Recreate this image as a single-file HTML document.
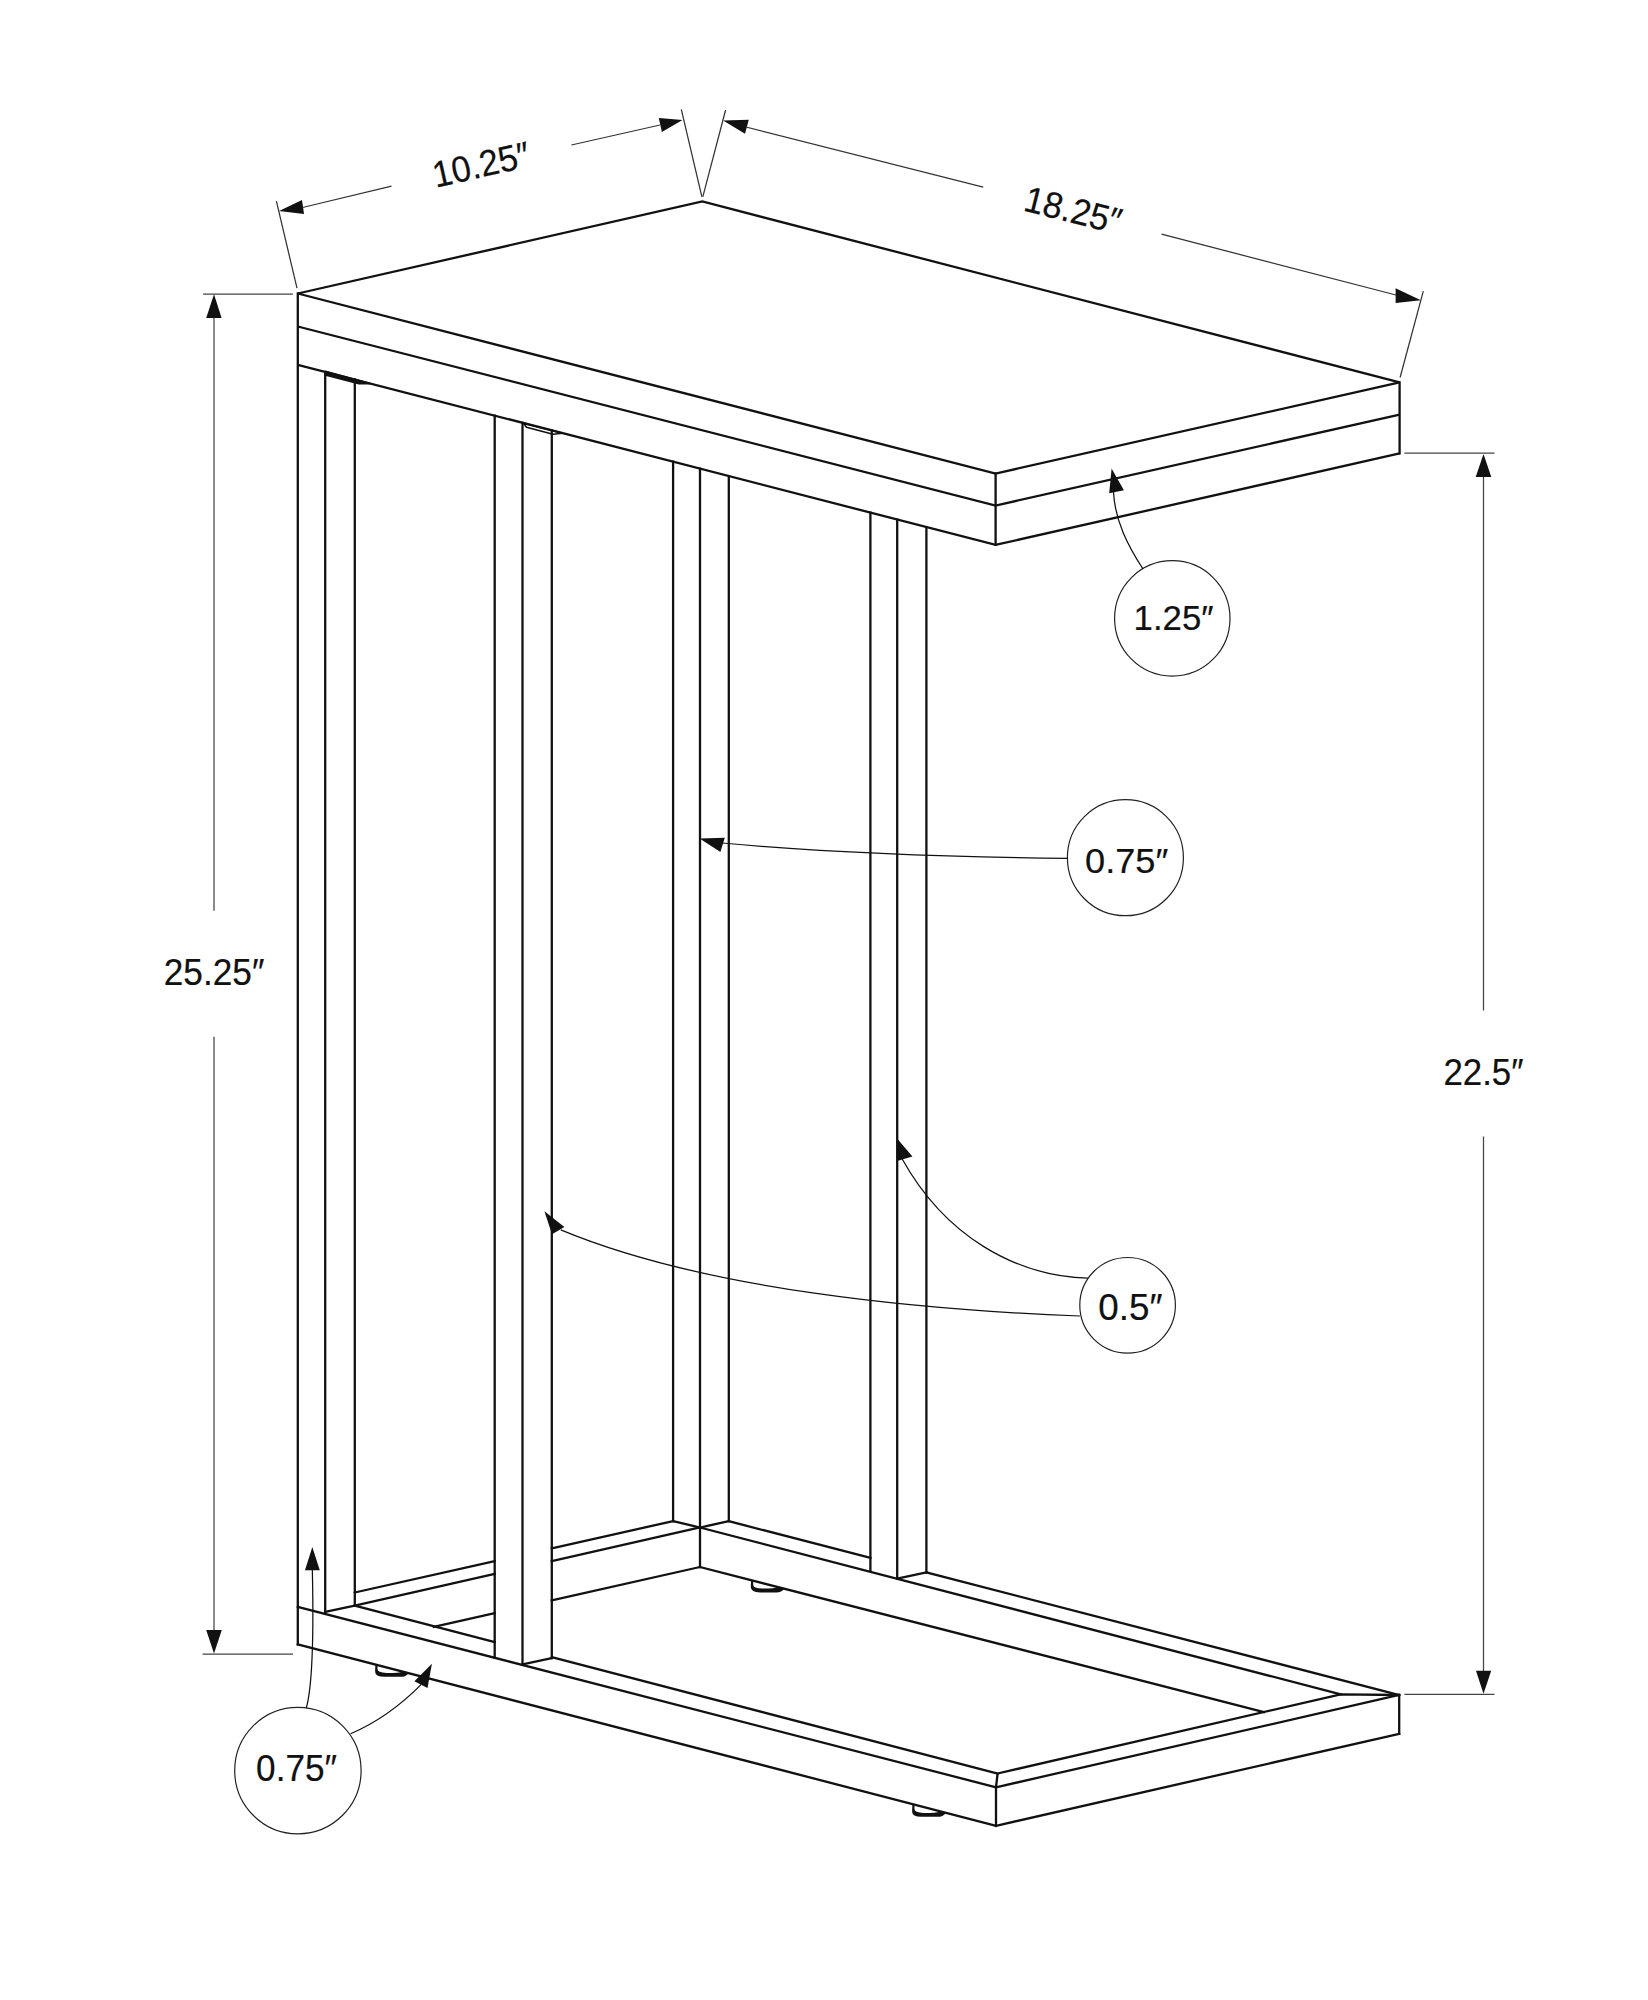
<!DOCTYPE html><html><head><meta charset="utf-8"><style>html,body{margin:0;padding:0;background:#fff}svg{display:block}</style></head><body><svg width="1648" height="2000" viewBox="0 0 1648 2000" stroke-linecap="butt"><rect width="1648" height="2000" fill="#fff"/><polygon points="297.8,293.5 702.3,201.5 1399.6,382.4 995.6,473.5 297.8,293.5" fill="none" stroke="#111" stroke-width="2.3" stroke-linejoin="miter"/>
<line x1="297.8" y1="293.5" x2="297.8" y2="1644.4" stroke="#111" stroke-width="2.3" stroke-linecap="square"/>
<polyline points="297.8,326.5 995.6,505.5 1399.6,414.6" fill="none" stroke="#111" stroke-width="2.3" stroke-linejoin="miter"/>
<polyline points="297.8,364.8 995.6,544.9 1399.6,453.4" fill="none" stroke="#111" stroke-width="2.3" stroke-linejoin="miter"/>
<line x1="995.6" y1="473.5" x2="995.6" y2="544.9" stroke="#111" stroke-width="2.3" stroke-linecap="square"/>
<line x1="1399.6" y1="382.4" x2="1399.6" y2="453.4" stroke="#111" stroke-width="2.3" stroke-linecap="square"/>
<line x1="325.2" y1="371.87742000000003" x2="325.2" y2="1611.9" stroke="#111" stroke-width="2.3" stroke-linecap="square"/>
<line x1="354.8" y1="379.5231" x2="354.8" y2="1605.6" stroke="#111" stroke-width="2.3" stroke-linecap="square"/>
<line x1="494.7" y1="415.65927" x2="494.7" y2="1657.5" stroke="#111" stroke-width="2.3" stroke-linecap="square"/>
<line x1="522.5" y1="422.84001" x2="522.5" y2="1664.3" stroke="#111" stroke-width="2.3" stroke-linecap="square"/>
<line x1="551.8" y1="430.40819999999997" x2="551.8" y2="1658" stroke="#111" stroke-width="2.3" stroke-linecap="square"/>
<line x1="673.1" y1="461.73999000000003" x2="673.1" y2="1521.1" stroke="#111" stroke-width="2.3" stroke-linecap="square"/>
<line x1="700.0" y1="468.68826" x2="700.0" y2="1567.0" stroke="#111" stroke-width="2.3" stroke-linecap="square"/>
<line x1="728.8" y1="476.1273" x2="728.8" y2="1521.2" stroke="#111" stroke-width="2.3" stroke-linecap="square"/>
<line x1="870.4" y1="512.70258" x2="870.4" y2="1570.8" stroke="#111" stroke-width="2.3" stroke-linecap="square"/>
<line x1="897.2" y1="519.62502" x2="897.2" y2="1578.6" stroke="#111" stroke-width="2.3" stroke-linecap="square"/>
<line x1="926.4" y1="527.16738" x2="926.4" y2="1572.4" stroke="#111" stroke-width="2.3" stroke-linecap="square"/>
<line x1="297.8" y1="1606.9" x2="996.0" y2="1787.3" stroke="#111" stroke-width="2.3" stroke-linecap="square"/>
<line x1="297.8" y1="1644.4" x2="996.0" y2="1825.8" stroke="#111" stroke-width="2.3" stroke-linecap="square"/>
<line x1="325.2" y1="1611.9" x2="354.8" y2="1605.6" stroke="#111" stroke-width="2.3" stroke-linecap="square"/>
<line x1="522.5" y1="1664.3" x2="551.8" y2="1658.0" stroke="#111" stroke-width="2.3" stroke-linecap="square"/>
<line x1="897.2" y1="1578.6" x2="926.4" y2="1572.4" stroke="#111" stroke-width="2.3" stroke-linecap="square"/>
<polyline points="673.1,1521.1 700.0,1527.5 728.8,1521.2" fill="none" stroke="#111" stroke-width="2.3" stroke-linejoin="miter"/>
<line x1="354.8" y1="1605.6" x2="494.7" y2="1642.1420192906035" stroke="#111" stroke-width="2.3" stroke-linecap="square"/>
<line x1="551.8" y1="1657.0565961418793" x2="997.6" y2="1773.5" stroke="#111" stroke-width="2.3" stroke-linecap="square"/>
<polyline points="997.6,1773.5 996.0,1787.3 996.0,1825.8" fill="none" stroke="#111" stroke-width="2.3" stroke-linejoin="miter"/>
<line x1="996.0" y1="1787.3" x2="1399.2" y2="1695.0" stroke="#111" stroke-width="2.3" stroke-linecap="square"/>
<line x1="996.0" y1="1825.8" x2="1399.2" y2="1733.8" stroke="#111" stroke-width="2.3" stroke-linecap="square"/>
<line x1="1399.2" y1="1695.0" x2="1399.2" y2="1733.8" stroke="#111" stroke-width="2.3" stroke-linecap="square"/>
<polyline points="997.6,1773.5 1340.6,1694.3 1399.2,1695.0" fill="none" stroke="#111" stroke-width="2.3" stroke-linejoin="miter"/>
<line x1="728.8" y1="1521.2" x2="870.4" y2="1557.9095465393796" stroke="#111" stroke-width="2.3" stroke-linecap="square"/>
<line x1="926.4" y1="1572.427446300716" x2="1399.2" y2="1695.0" stroke="#111" stroke-width="2.3" stroke-linecap="square"/>
<line x1="700.0" y1="1527.5" x2="1340.6" y2="1694.3" stroke="#111" stroke-width="2.3" stroke-linecap="square"/>
<line x1="700.0" y1="1567.0" x2="1263.8" y2="1712.0" stroke="#111" stroke-width="2.3" stroke-linecap="square"/>
<line x1="354.8" y1="1592.5" x2="494.7" y2="1561.118096135721" stroke="#111" stroke-width="2.3" stroke-linecap="square"/>
<line x1="551.8" y1="1548.3096135721019" x2="673.1" y2="1521.1" stroke="#111" stroke-width="2.3" stroke-linecap="square"/>
<line x1="354.8" y1="1605.6" x2="494.7" y2="1573.9482329084587" stroke="#111" stroke-width="2.3" stroke-linecap="square"/>
<line x1="551.8" y1="1561.0296060254925" x2="700.0" y2="1527.5" stroke="#111" stroke-width="2.3" stroke-linecap="square"/>
<line x1="433.8" y1="1626.9" x2="494.7" y2="1613.1963561232158" stroke="#111" stroke-width="2.3" stroke-linecap="square"/>
<line x1="551.8" y1="1600.3477836213374" x2="700.0" y2="1567.0" stroke="#111" stroke-width="2.3" stroke-linecap="square"/>
<path d="M375.40000000000003,1664.1 L375.1,1671.5 Q375.1,1676.8 384.3,1676.8 L400.70000000000005,1676.8 Q405.8,1676.8 408.8,1673.1988 L402.1,1671.6634999999999 Q400.1,1672.8 386.6,1673.0 Q377.5,1672.8 377.5,1669.1 L377.5,1665.0920999999998 Z" fill="#111"/>
<path d="M751.0999999999999,1579.7 L750.8,1587.1000000000001 Q750.8,1592.4 760.0,1592.4 L776.4,1592.4 Q781.5,1592.4 784.5,1588.73904 L777.8,1587.2158000000002 Q775.8,1588.4 762.3,1588.6000000000001 Q753.1999999999999,1588.4 753.1999999999999,1584.7 L753.1999999999999,1580.68868 Z" fill="#111"/>
<path d="M912.4,1804.1 L912.1,1811.5 Q912.1,1816.8 921.3000000000001,1816.8 L937.7,1816.8 Q942.8000000000001,1816.8 945.8000000000001,1813.1988 L939.1,1811.6634999999999 Q937.1,1812.8 923.6,1813.0 Q914.5,1812.8 914.5,1809.1 L914.5,1805.0920999999998 Z" fill="#111"/>
<polygon points="325.5,370.5 371,383 369.6,384.6 358.7,384.6 327,376.2 325.5,376" fill="#111"/>
<polygon points="523.5,423.2 562.5,433.2 553,434.2 526.5,427.2" fill="none" stroke="#111" stroke-width="1.6" stroke-linejoin="round"/>
<line x1="276.4" y1="201.1" x2="297.0" y2="288.2" stroke="#333" stroke-width="1.25"/>
<line x1="681.3" y1="109.4" x2="701.9" y2="196.9" stroke="#333" stroke-width="1.25"/>
<polygon points="279.0,211.1 302.0,200.1 304.0,214.1" fill="#111"/>
<line x1="302.5" y1="207.5" x2="391.5" y2="186.1" stroke="#333" stroke-width="1.25"/>
<line x1="571.4" y1="145.0" x2="660.0" y2="125.0" stroke="#333" stroke-width="1.25"/>
<polygon points="682.5,120.0 658.8,118.1 661.9,131.9" fill="#111"/>
<line x1="725.6" y1="110.0" x2="702.8" y2="196.9" stroke="#333" stroke-width="1.25"/>
<line x1="1423.3" y1="291.2" x2="1400.1" y2="377.5" stroke="#333" stroke-width="1.25"/>
<polygon points="723.1,120.6 748.8,119.8 745.0,133.8" fill="#111"/>
<line x1="746.0" y1="127.0" x2="983.2" y2="187.2" stroke="#333" stroke-width="1.25"/>
<line x1="1161.6" y1="234.2" x2="1396.0" y2="295.0" stroke="#333" stroke-width="1.25"/>
<polygon points="1420.9,300.2 1395.6,288.3 1395.6,303.1" fill="#111"/>
<line x1="203.1" y1="294.0" x2="292.9" y2="294.0" stroke="#444" stroke-width="1.25"/>
<line x1="202.5" y1="1654.2" x2="293.0" y2="1654.2" stroke="#444" stroke-width="1.25"/>
<line x1="214.0" y1="316" x2="214.0" y2="910.7" stroke="#444" stroke-width="1.25"/>
<line x1="214.0" y1="1036.8" x2="214.0" y2="1632" stroke="#444" stroke-width="1.25"/>
<polygon points="214.0,294.2 206.2,318.0 221.6,318.0" fill="#111"/>
<polygon points="214.0,1653.5 206.2,1630.0 221.8,1630.0" fill="#111"/>
<line x1="1404.4" y1="453.2" x2="1494.5" y2="453.2" stroke="#444" stroke-width="1.25"/>
<line x1="1404.5" y1="1694.3" x2="1494.5" y2="1694.3" stroke="#444" stroke-width="1.25"/>
<line x1="1483.5" y1="475" x2="1483.5" y2="1010.4" stroke="#444" stroke-width="1.25"/>
<line x1="1483.5" y1="1136.6" x2="1483.5" y2="1672" stroke="#444" stroke-width="1.25"/>
<polygon points="1483.5,454.1 1475.7,477.1 1491.3,477.1" fill="#111"/>
<polygon points="1483.5,1693.8 1476.0,1670.8 1491.2,1670.8" fill="#111"/>
<circle cx="1172.3" cy="618.4" r="57.7" fill="none" stroke="#222" stroke-width="1.2"/>
<circle cx="1125.4" cy="857.7" r="58.0" fill="none" stroke="#222" stroke-width="1.2"/>
<circle cx="1127.6" cy="1305.3" r="47.8" fill="none" stroke="#222" stroke-width="1.2"/>
<circle cx="297.9" cy="1770.6" r="63.2" fill="none" stroke="#222" stroke-width="1.2"/>
<path d="M1143,569 C1128,546 1115,521 1113.5,492" fill="none" stroke="#111" stroke-width="1.25"/>
<polygon points="1111.6,468.4 1109.2,493.3 1123.9,490.3" fill="#111"/>
<path d="M1068.1,858.3 C950,857 820,852 722,843" fill="none" stroke="#111" stroke-width="1.25"/>
<polygon points="699.6,838.4 724.8,837.7 720.4,851.9" fill="#111"/>
<path d="M1080,1316 C920,1310 705,1290 560.8,1229.9" fill="none" stroke="#111" stroke-width="1.25"/>
<polygon points="544.4,1211.3 564.4,1227.0 552.0,1234.3" fill="#111"/>
<path d="M1087.9,1278.2 C1015,1276 945,1236 902.2,1159" fill="none" stroke="#111" stroke-width="1.25"/>
<polygon points="897.1,1138.4 912.4,1156.6 897.1,1161.0" fill="#111"/>
<path d="M306.3,1708.1 C314,1680 313.5,1620 312.3,1568" fill="none" stroke="#111" stroke-width="1.25"/>
<polygon points="312.3,1546.9 305.0,1570.3 319.8,1570.3" fill="#111"/>
<path d="M350.6,1733.8 C378,1722 400,1706 421.3,1684.4" fill="none" stroke="#111" stroke-width="1.25"/>
<polygon points="431.9,1663.8 414.4,1681.3 427.5,1688.1" fill="#111"/>
<text x="-53.28" y="12.63" font-family="Liberation Sans" font-size="36.62" fill="#111" stroke="#111" stroke-width="0.2" transform="translate(482.0,164.3) rotate(-12.7) scale(0.9433,1)">10.25″</text>
<text x="-53.28" y="12.63" font-family="Liberation Sans" font-size="36.62" fill="#111" stroke="#111" stroke-width="0.2" transform="translate(1074.0,210.3) rotate(14.1) scale(0.9433,1)">18.25″</text>
<text x="-53.34" y="12.78" font-family="Liberation Sans" font-size="37.04" fill="#111" stroke="#111" stroke-width="0.2" transform="translate(214.5,972.5) rotate(0) scale(0.9517,1)">25.25″</text>
<text x="-42.66" y="12.63" font-family="Liberation Sans" font-size="36.62" fill="#111" stroke="#111" stroke-width="0.2" transform="translate(1484.0,1072.2) rotate(0) scale(0.9515,1)">22.5″</text>
<text x="-42.39" y="12.39" font-family="Liberation Sans" font-size="35.92" fill="#111" stroke="#111" stroke-width="0.2" transform="translate(1174.6,617.8) rotate(0) scale(0.9681,1)">1.25″</text>
<text x="-41.33" y="12.29" font-family="Liberation Sans" font-size="35.63" fill="#111" stroke="#111" stroke-width="0.2" transform="translate(1127.0,860.5) rotate(0) scale(1.0161,1)">0.75″</text>
<text x="-33.22" y="13.02" font-family="Liberation Sans" font-size="37.75" fill="#111" stroke="#111" stroke-width="0.2" transform="translate(1130.6,1306.7) rotate(0) scale(0.976,1)">0.5″</text>
<text x="-42.97" y="12.78" font-family="Liberation Sans" font-size="37.04" fill="#111" stroke="#111" stroke-width="0.2" transform="translate(296.9,1768.1) rotate(0) scale(0.9497,1)">0.75″</text></svg></body></html>
